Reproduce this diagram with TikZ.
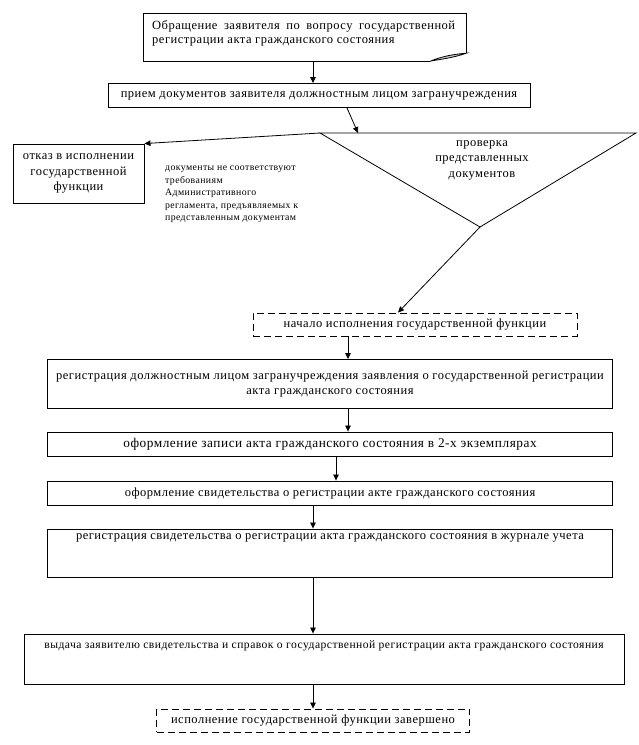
\documentclass[tikz,border=0pt]{standalone}
\usepackage{fontspec}
\setmainfont[LetterSpace=4]{Liberation Serif}
\usetikzlibrary{arrows.meta}
\tikzset{
  box/.style={draw, line width=0.9pt, inner sep=0pt, align=center, font=\fontsize{12.5}{15}\selectfont},
  dbox/.style={box, dash pattern=on 7pt off 4pt},
  conn/.style={line width=0.8pt, -{Triangle[length=6pt,width=5.5pt]}},
  plain/.style={line width=0.8pt},
  txt/.style={inner sep=0pt, font=\fontsize{12.5}{15}\selectfont},
  small/.style={inner sep=0pt, align=left, font=\fontsize{9.8}{12.5}\selectfont},
}
\begin{document}
\begin{tikzpicture}[x=1pt,y=-1pt]
\useasboundingbox (0,0) rectangle (639,745);
% box 1 with folded corner
\node[inner sep=0pt, minimum width=322pt, minimum height=47pt] (b1) at (305,37.5) {};
\draw[plain] ([yshift=8pt]b1.south east) -- (b1.north east) -- (b1.north west) -- (b1.south west) -- ([xshift=-36pt]b1.south east);
\draw[plain, fill=gray!45] ([xshift=-36pt]b1.south east) .. controls ([xshift=-24pt,yshift=5pt]b1.south east) and ([xshift=-12pt,yshift=7pt]b1.south east) .. ([yshift=8pt]b1.south east)
  .. controls ([xshift=-14pt,yshift=3pt]b1.south east) and ([xshift=-26pt,yshift=2pt]b1.south east) .. ([xshift=-36pt]b1.south east);
\node[txt, text width=303pt, align=justify, anchor=north west, font=\fontsize{12.5}{14.5}\selectfont] (t1) at (152,20) {Обращение заявителя по вопросу государственной регистрации акта гражданского состояния};
% box 2
\node[box, minimum width=422pt, minimum height=24pt] (b2) at (319,95.5) {прием документов заявителя должностным лицом загранучреждения};
% decision triangle
\coordinate (tl) at (320,133);
\coordinate (tr) at (636,133);
\coordinate (tb) at (480,227);
\coordinate (tin) at (358,133);
\draw[plain] (tl) -- (tr) -- (tb) -- cycle;
\node[txt, align=center, font=\fontsize{12.5}{15.5}\selectfont] (tq) at (482,160) {проверка\\представленных\\документов};
% refusal
\node[box, minimum width=131pt, minimum height=59pt, font=\fontsize{12.5}{15.5}\selectfont] (ref) at (78.5,173.5) {отказ в исполнении\\государственной\\функции};
\node[small, anchor=north west] (note) at (165,166) {документы не соответствуют\\требованиям\\Административного\\регламента, предъявляемых к\\представленным документам};
% start
\node[dbox, minimum width=324pt, minimum height=23pt] (st) at (415,324.5) {начало исполнения государственной функции};
% steps
\node[box, minimum width=565pt, minimum height=49pt] (b5) at (330,384) {регистрация должностным лицом загранучреждения заявления о государственной регистрации\\акта гражданского состояния};
\node[box, minimum width=565pt, minimum height=24pt, font=\fontsize{13.3}{15}\selectfont] (b6) at (330,444) {оформление записи акта гражданского состояния в 2-х экземплярах};
\node[box, minimum width=565pt, minimum height=24pt] (b7) at (330,493) {оформление свидетельства о регистрации акте гражданского состояния};
\node[box, minimum width=565pt, minimum height=48pt, label={[txt, anchor=north, yshift=-5pt]north:регистрация свидетельства о регистрации акта гражданского состояния в журнале учета}] (b8) at (330,553) {};
\node[box, minimum width=600pt, minimum height=50pt, label={[txt, anchor=north, yshift=-7pt, font=\fontsize{11.6}{14}\selectfont]north:выдача заявителю свидетельства и справок о государственной регистрации акта гражданского состояния}] (b9) at (324,659) {};
\node[dbox, minimum width=313pt, minimum height=23pt] (en) at (313,720.5) {исполнение государственной функции завершено};
% connectors
\draw[conn] ([xshift=8pt]b1.south) -- ([xshift=-6pt]b2.north);
\draw[conn] ([xshift=28pt]b2.south) -- (tin);
\draw[conn] (tl) -- (ref.north east);
\draw[conn] (tb) -- ([xshift=-17pt]st.north);
\draw[conn] ([xshift=-67pt]st.south) -- ([xshift=18pt]b5.north);
\draw[conn] ([xshift=18pt]b5.south) -- ([xshift=18pt]b6.north);
\draw[conn] ([xshift=6pt]b6.south) -- ([xshift=6pt]b7.north);
\draw[conn] ([xshift=-17pt]b7.south) -- ([xshift=-17pt]b8.north);
\draw[conn] ([xshift=-17pt]b8.south) -- ([xshift=-11pt]b9.north);
\draw[conn] ([xshift=-11pt]b9.south) -- (en.north);
\end{tikzpicture}
\end{document}
